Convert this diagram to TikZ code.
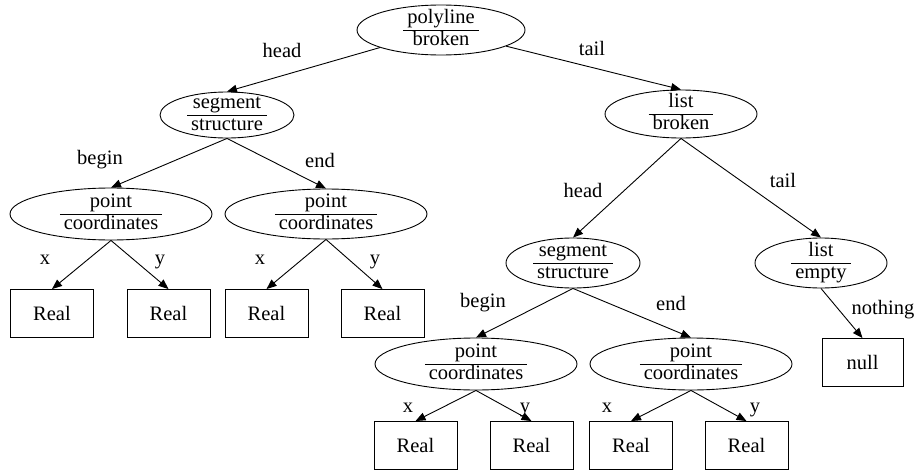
\documentclass[tikz,border=0pt]{standalone}
\usepackage{fontspec}
\setmainfont{Liberation Serif}
\usetikzlibrary{arrows.meta,shapes.geometric}

\newcommand{\mainsize}{\fontsize{20.5}{22}\selectfont}
% two-line record: type name over kind, split by a rule
\newcommand{\recpair}[2]{{\mainsize\renewcommand{\arraystretch}{1.0}%
  \begin{tabular}{@{\hspace{4pt}}c@{\hspace{4pt}}}#1\\\hline #2\end{tabular}}}

\tikzset{
  base/.style={font=\mainsize, text=black},
  rec/.style={base, draw, ellipse, inner sep=0pt, line width=0.9pt},
  leaf/.style={base, draw, rectangle, inner sep=0pt, minimum width=83pt,
               minimum height=48pt, line width=0.9pt},
  lbl/.style={base, inner sep=0pt},
  edge/.style={draw, line width=0.9pt, -{Triangle[length=10pt,width=8pt]}}
}

\begin{document}
\begin{tikzpicture}[x=1pt,y=-1pt]
  \useasboundingbox (0,0) rectangle (918,471);

  % record nodes
  \node[rec, minimum width=168pt, minimum height=50pt,
        label={center:\recpair{polyline}{broken}}] (root) at (441,30) {};
  \node[rec, minimum width=134pt, minimum height=46pt,
        label={center:\recpair{segment}{structure}}] (segL) at (227,115) {};
  \node[rec, minimum width=152pt, minimum height=48pt,
        label={center:\recpair{list}{broken}}] (listB) at (681,114) {};
  \node[rec, minimum width=202pt, minimum height=52pt,
        label={center:\recpair{point}{coordinates}}] (pointL) at (111,214) {};
  \node[rec, minimum width=202pt, minimum height=50pt,
        label={center:\recpair{point}{coordinates}}] (pointM) at (326,214) {};
  \node[rec, minimum width=134pt, minimum height=50pt,
        label={center:\recpair{segment}{structure}}] (segR) at (573,263) {};
  \node[rec, minimum width=132pt, minimum height=50pt,
        label={center:\recpair{list}{empty}}] (listE) at (821,263) {};
  \node[rec, minimum width=202pt, minimum height=52pt,
        label={center:\recpair{point}{coordinates}}] (pointBL) at (476,364) {};
  \node[rec, minimum width=202pt, minimum height=52pt,
        label={center:\recpair{point}{coordinates}}] (pointBR) at (691,364) {};

  % leaf nodes
  \node[leaf] (rL1) at (52,313.5) {Real};
  \node[leaf] (rL2) at (168.5,313.5) {Real};
  \node[leaf] (rM1) at (266.5,313.5) {Real};
  \node[leaf] (rM2) at (382.5,313.5) {Real};
  \node[leaf] (rB1) at (415.5,445.5) {Real};
  \node[leaf] (rB2) at (531.5,445.5) {Real};
  \node[leaf] (rB3) at (631,445.5) {Real};
  \node[leaf] (rB4) at (746.5,445.5) {Real};
  \node[leaf, minimum width=81pt] (nul) at (862.5,362.5) {null};

  % connectors
  \draw[edge] (root) -- (segL.north);
  \draw[edge] (root) -- (listB.north);
  \draw[edge] (segL.south) -- (pointL.north);
  \draw[edge] (segL.south) -- (pointM.north);
  \draw[edge] (pointL.south) -- (rL1.north);
  \draw[edge] (pointL.south) -- (rL2.north);
  \draw[edge] (pointM.south) -- (rM1.north);
  \draw[edge] (pointM.south) -- (rM2.north);
  \draw[edge] (listB.south) -- (segR.north);
  \draw[edge] (listB.south) -- (listE.north);
  \draw[edge] (segR.south) -- (pointBL.north);
  \draw[edge] (segR.south) -- (pointBR.north);
  \draw[edge] (pointBL.south) -- (rB1.north);
  \draw[edge] (pointBL.south) -- (rB2.north);
  \draw[edge] (pointBR.south) -- (rB3.north);
  \draw[edge] (pointBR.south) -- (rB4.north);
  \draw[edge] (listE.south) -- (nul.north);

  % field names on the connectors
  \node[lbl] (tHead) at (282,50) {head};
  \node[lbl] (tTail) at (592,48) {tail};
  \node[lbl] (sBegin) at (100,160) {begin};
  \node[lbl] (sEnd) at (320,160) {end};
  \node[lbl] (pLx) at (45,260) {x};
  \node[lbl] (pLy) at (160,262) {y};
  \node[lbl] (pMx) at (260,260) {x};
  \node[lbl] (pMy) at (375,262) {y};
  \node[lbl] (lHead) at (583,190) {head};
  \node[lbl] (lTail) at (783,180) {tail};
  \node[lbl] (rBegin) at (483,303) {begin};
  \node[lbl] (rEnd) at (671,303) {end};
  \node[lbl] (bLx) at (408,408) {x};
  \node[lbl] (bLy) at (525,410) {y};
  \node[lbl] (bRx) at (607,408) {x};
  \node[lbl] (bRy) at (755,410) {y};
  \node[lbl] (eNothing) at (883,310) {nothing};
\end{tikzpicture}
\end{document}
